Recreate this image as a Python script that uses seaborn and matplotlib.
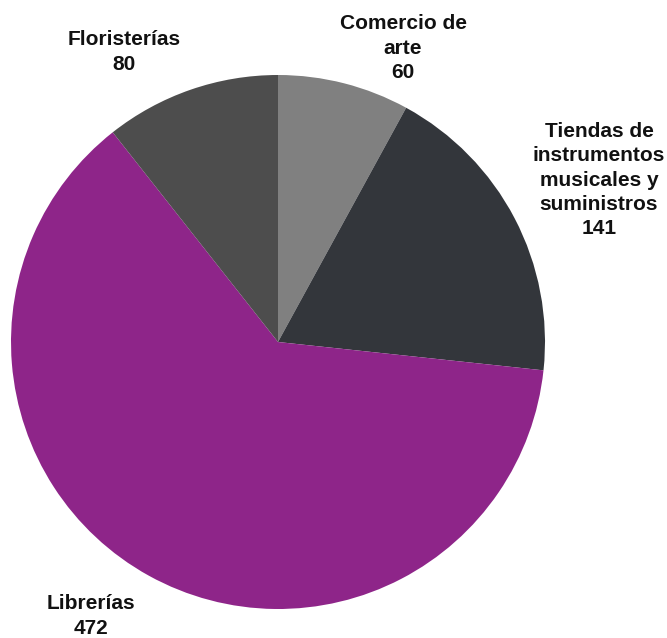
import matplotlib
matplotlib.use("Agg")
import matplotlib.pyplot as plt
import seaborn as sns

# pie data (clockwise from the top)
categories = ["Comercio de\narte", "Tiendas de\ninstrumentos\nmusicales y\nsuministros",
              "Librerías", "Floristerías"]
values = [60, 141, 472, 80]
colors = ["#808080", "#33363b", "#8e2589", "#4d4d4d"]

# label anchor positions in figure pixels (x, y from top)
label_pos = [(403, 48), (599, 180), (91, 616), (124, 52)]

sns.set_theme(style="white")
plt.rcParams["font.family"] = ["Liberation Sans", "DejaVu Sans"]

W, H = 667, 638
cx, cy, r = 278, 342, 267

fig = plt.figure(figsize=(W / 100, H / 100), dpi=100)
ax = fig.add_axes([0, 0, 1, 1])

ax.pie(values, colors=colors, startangle=90, counterclock=False,
       wedgeprops=dict(linewidth=0))

ax.set_xlim(-cx / r, (W - cx) / r)
ax.set_ylim((cy - H) / r, cy / r)
ax.set_aspect("equal")
ax.axis("off")

for cat, val, (px, py) in zip(categories, values, label_pos):
    ax.text((px - cx) / r, (cy - py) / r, f"{cat}\n{val}", ha="center", va="center",
            fontsize=15, fontweight="bold", linespacing=1.35, color="#111111")

fig.savefig("out.png", dpi=100)
